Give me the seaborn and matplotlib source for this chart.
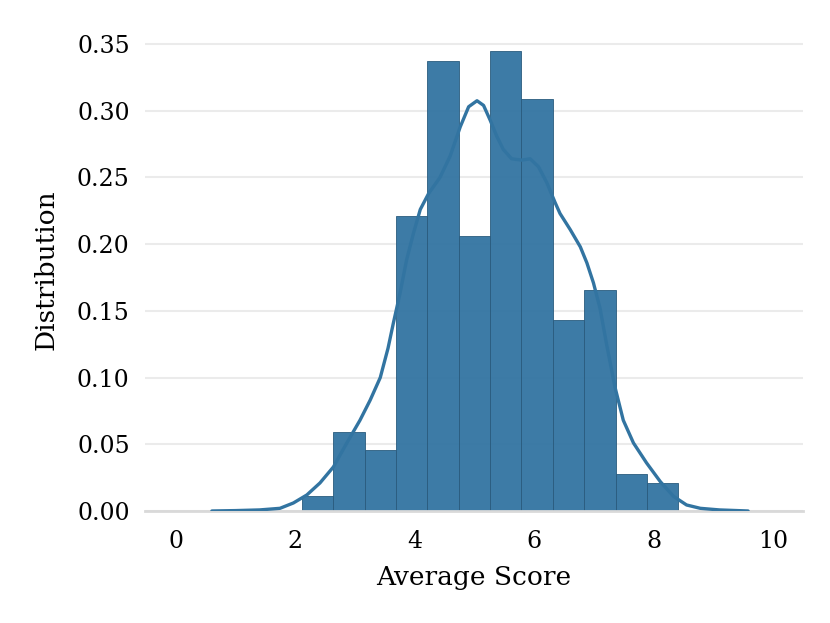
"""Histogram of average scores with a density curve."""

import numpy as np
import matplotlib
matplotlib.use("Agg")
import matplotlib.pyplot as plt
import seaborn as sns

# bin edges and density heights
bin_edges = [2.11, 2.635, 3.16, 3.685, 4.21, 4.735, 5.26,
             5.785, 6.31, 6.835, 7.36, 7.885, 8.41]
bin_density = [0.011, 0.059, 0.046, 0.221, 0.337, 0.206,
               0.345, 0.309, 0.143, 0.166, 0.028, 0.021]

# density curve points
kde_x = [0.60, 1.00, 1.40, 1.74, 1.965, 2.19, 2.41, 2.635, 2.86, 3.08,
         3.25, 3.42, 3.55, 3.64, 3.75, 3.86, 3.975, 4.09, 4.23, 4.42,
         4.59, 4.76, 4.90, 5.04, 5.15, 5.26, 5.37, 5.48, 5.62, 5.79,
         5.93, 6.07, 6.21, 6.35, 6.43, 6.60, 6.77, 6.88, 6.99, 7.10,
         7.21, 7.35, 7.49, 7.66, 7.88, 8.11, 8.33, 8.55, 8.78, 9.10, 9.58]
kde_y = [0.000, 0.0003, 0.0008, 0.002, 0.006, 0.012, 0.021, 0.033, 0.051,
         0.068, 0.083, 0.100, 0.122, 0.141, 0.163, 0.188, 0.208, 0.226,
         0.238, 0.250, 0.266, 0.288, 0.303, 0.3075, 0.304, 0.293, 0.281,
         0.271, 0.264, 0.263, 0.264, 0.258, 0.246, 0.231, 0.223, 0.211,
         0.198, 0.186, 0.171, 0.152, 0.125, 0.093, 0.068, 0.051, 0.036,
         0.022, 0.011, 0.0045, 0.002, 0.0008, 0.000]

x_ticks = [0, 2, 4, 6, 8, 10]
y_ticks = [0.00, 0.05, 0.10, 0.15, 0.20, 0.25, 0.30, 0.35]

sns.set_style("white")
plt.rcParams["font.family"] = ["DejaVu Serif"]

fig = plt.figure(figsize=(8.3, 6.23), dpi=100)
ax = fig.add_axes([0.1747, 0.1798, 0.7928, 0.7752])

centers = (np.array(bin_edges[:-1]) + np.array(bin_edges[1:])) / 2
sns.histplot(x=centers, weights=bin_density, bins=bin_edges, stat="count",
             color="#3274a1", alpha=0.95, edgecolor="#2a5b7e", linewidth=0.6,
             ax=ax, zorder=2)
sns.lineplot(x=kde_x, y=kde_y, color="#3274a1", linewidth=2.4, ax=ax,
             zorder=3)

ax.set_xlim(-0.52, 10.5)
ax.set_ylim(0, 0.362)
ax.set_xticks(x_ticks)
ax.set_yticks(y_ticks)
ax.set_yticklabels([f"{v:.2f}" for v in y_ticks])
ax.grid(axis="y", color="#ebebeb", linewidth=1.5, zorder=0)
ax.set_axisbelow(True)
for side in ["left", "right", "top"]:
    ax.spines[side].set_visible(False)
ax.spines["bottom"].set_color("#d9d9d9")
ax.spines["bottom"].set_linewidth(2)
ax.tick_params(axis="both", length=0, labelsize=17, labelcolor="black")
ax.tick_params(axis="x", pad=14)
ax.tick_params(axis="y", pad=11)
ax.set_xlabel("Average Score", fontsize=19, color="black", labelpad=8)
ax.set_ylabel("Distribution", fontsize=19, color="black", labelpad=13)

fig.savefig("out.png", dpi=100)
plt.close(fig)
